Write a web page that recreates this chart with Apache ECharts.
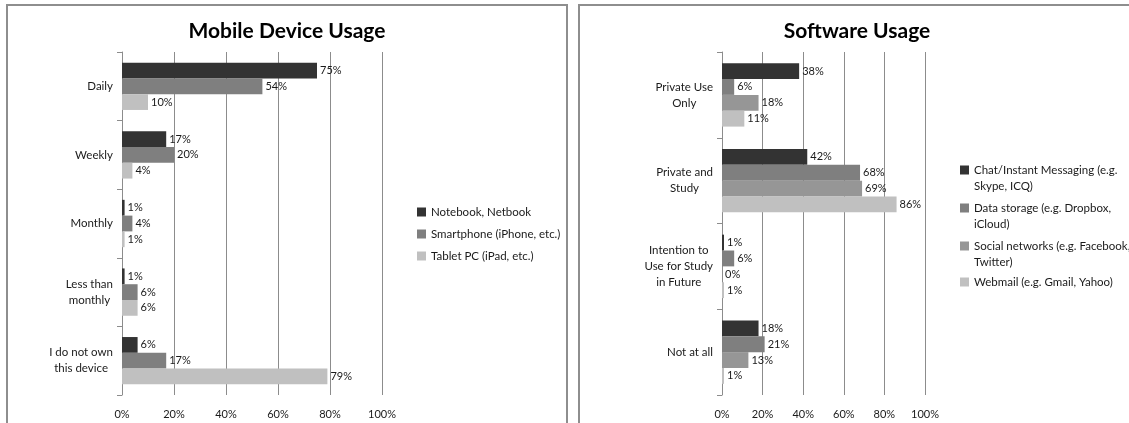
<!DOCTYPE html>
<html>
<head>
<meta charset="utf-8">
<script src="https://cdn.jsdelivr.net/npm/echarts@6/dist/echarts.min.js"></script>
<style>
html,body{margin:0;padding:0;background:#fff;}
#c{width:1129px;height:423px;}
</style>
</head>
<body>
<div id="c"></div>
<script>
// ---- data ----
const mobileCategories = ['Daily', 'Weekly', 'Monthly', 'Less than\nmonthly', 'I do not own\nthis device'];
const mobileSeriesNames = ['Notebook, Netbook', 'Smartphone (iPhone, etc.)', 'Tablet PC (iPad, etc.)'];
const notebookValues = [75, 17, 1, 1, 6];
const smartphoneValues = [54, 20, 4, 6, 17];
const tabletValues = [10, 4, 1, 6, 79];

const softwareCategories = ['Private Use\nOnly', 'Private and\nStudy', 'Intention to\nUse for Study\nin Future', 'Not at all'];
const softwareSeriesNames = ['Chat/Instant Messaging (e.g. Skype, ICQ)', 'Data storage (e.g. Dropbox, iCloud)', 'Social networks (e.g. Facebook, Twitter)', 'Webmail (e.g. Gmail, Yahoo)'];
const softwareLegendLines = [['Chat/Instant Messaging (e.g.', 'Skype, ICQ)'], ['Data storage (e.g. Dropbox,', 'iCloud)'], ['Social networks (e.g. Facebook,', 'Twitter)'], ['Webmail (e.g. Gmail, Yahoo)']];
const chatValues = [38, 42, 1, 18];
const storageValues = [6, 68, 6, 21];
const socialValues = [18, 69, 0, 13];
const webmailValues = [11, 86, 1, 1];

const percentTicks = [0, 20, 40, 60, 80, 100];

// ---- styles ----
const FONT = 'Lato, "Open Sans", sans-serif';
const TXT = '#1a1a1a';
const GRID = '#8c8c8c';
const mobileColors = ['#333333', '#7f7f7f', '#c0c0c0'];
const softwareColors = ['#333333', '#7f7f7f', '#969696', '#c0c0c0'];

const chart = echarts.init(document.getElementById('c'), null, {renderer: 'canvas'});

function xAxisFor(gi) {
  return {
    gridIndex: gi, type: 'value', min: percentTicks[0], max: percentTicks[percentTicks.length - 1], interval: 20,
    axisLine: {show: false}, axisTick: {show: false},
    splitLine: {show: true, lineStyle: {color: GRID, width: 1}},
    axisLabel: {formatter: '{value}%', margin: 14, fontSize: 11, color: TXT, fontFamily: FONT}
  };
}
function yAxisFor(gi, cats) {
  return {
    gridIndex: gi, type: 'category', data: cats, inverse: true,
    axisLine: {show: true, lineStyle: {color: GRID, width: 1}},
    axisTick: {show: true, length: 5, lineStyle: {color: GRID}},
    axisLabel: {
      margin: 9, fontSize: 11.5, color: TXT, fontFamily: FONT,
      formatter: v => v.split('\n').map(s => '{c|' + s + '}').join('\n'),
      rich: {c: {align: 'center', lineHeight: 16, fontSize: 11.5, color: TXT, fontFamily: FONT}}
    }
  };
}
function barSeries(name, data, color, gi, gap) {
  return {
    name: name, type: 'bar', data: data, xAxisIndex: gi, yAxisIndex: gi,
    barGap: '0%', barCategoryGap: gap,
    itemStyle: {color: color},
    label: {show: true, position: 'right', distance: 3, formatter: '{c}%', fontSize: 11, color: TXT, fontFamily: FONT},
    emphasis: {disabled: true}
  };
}

const series = [
  barSeries(mobileSeriesNames[0], notebookValues, mobileColors[0], 0, '31%'),
  barSeries(mobileSeriesNames[1], smartphoneValues, mobileColors[1], 0, '31%'),
  barSeries(mobileSeriesNames[2], tabletValues, mobileColors[2], 0, '31%'),
  barSeries(softwareSeriesNames[0], chatValues, softwareColors[0], 1, '26%'),
  barSeries(softwareSeriesNames[1], storageValues, softwareColors[1], 1, '26%'),
  barSeries(softwareSeriesNames[2], socialValues, softwareColors[2], 1, '26%'),
  barSeries(softwareSeriesNames[3], webmailValues, softwareColors[3], 1, '26%')
];

const legendText = {fontSize: 11.5, color: TXT, fontFamily: FONT, lineHeight: 16};
// icon sits beside the first text line: a blank leading line keeps the block centred on line 1
const softwareLegendTops = [146, 184, 222, 274];
const softwareLegends = softwareSeriesNames.map((n, i) => ({
  orient: 'vertical', left: 960, top: softwareLegendTops[i], padding: 0,
  itemWidth: 9, itemHeight: 9, icon: 'rect', selectedMode: false,
  data: [n],
  formatter: () => softwareLegendLines[i].length > 1 ? '\u00a0\n' + softwareLegendLines[i].join('\n') : softwareLegendLines[i][0],
  textStyle: legendText
}));

const option = {
  animation: false,
  backgroundColor: '#fff',
  graphic: [
    {type: 'rect', shape: {x: 7, y: 5, width: 560, height: 440}, style: {fill: 'none', stroke: '#8e8e8e', lineWidth: 2}, silent: true, z: -10},
    {type: 'rect', shape: {x: 579, y: 5, width: 600, height: 440}, style: {fill: 'none', stroke: '#8e8e8e', lineWidth: 2}, silent: true, z: -10},
    {type: 'text', x: 287, y: 31, style: {text: 'Mobile Device Usage', textAlign: 'center', textVerticalAlign: 'middle', fontSize: 21, fontWeight: 'bold', fontFamily: FONT, fill: '#000'}, silent: true},
    {type: 'text', x: 857, y: 31, style: {text: 'Software Usage', textAlign: 'center', textVerticalAlign: 'middle', fontSize: 21, fontWeight: 'bold', fontFamily: FONT, fill: '#000'}, silent: true}
  ],
  grid: [
    {left: 122, top: 52, width: 260, height: 343, containLabel: false},
    {left: 722, top: 52, width: 203, height: 343, containLabel: false}
  ],
  xAxis: [xAxisFor(0), xAxisFor(1)],
  yAxis: [yAxisFor(0, mobileCategories), yAxisFor(1, softwareCategories)],
  legend: [
    {orient: 'vertical', left: 417, top: 204, padding: 0, itemWidth: 9, itemHeight: 9, itemGap: 6, icon: 'rect', selectedMode: false,
     data: mobileSeriesNames, textStyle: legendText}
  ].concat(softwareLegends),
  series: series
};
chart.setOption(option);
</script>
</body>
</html>
